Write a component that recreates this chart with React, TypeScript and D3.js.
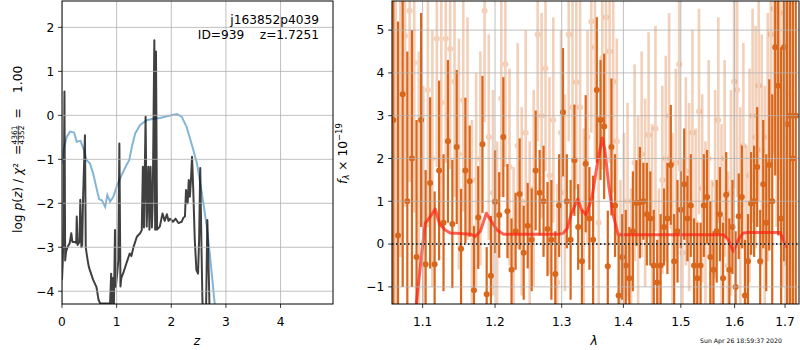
import * as d3 from "d3";

// left panel: log p(z) and prior
const pzZ = [0.0, 0.015, 0.03, 0.045, 0.058, 0.075, 0.1, 0.14, 0.17, 0.19, 0.23, 0.26, 0.27, 0.285, 0.32, 0.335, 0.355, 0.37, 0.385, 0.42, 0.435, 0.45, 0.47, 0.49, 0.51, 0.57, 0.63, 0.67, 0.7, 0.85, 0.88, 0.9, 0.91, 0.935, 0.95, 0.97, 0.985, 1.01, 1.03, 1.05, 1.07, 1.085, 1.12, 1.18, 1.24, 1.27, 1.31, 1.37, 1.43, 1.46, 1.48, 1.5, 1.53, 1.55, 1.58, 1.6, 1.62, 1.645, 1.66, 1.69, 1.705, 1.72, 1.74, 1.79, 1.84, 1.88, 1.92, 1.95, 1.98, 2.03, 2.08, 2.13, 2.19, 2.22, 2.25, 2.27, 2.3, 2.32, 2.34, 2.36, 2.38, 2.4, 2.43, 2.46, 2.49, 2.51, 2.53, 2.55, 2.57, 2.6, 2.63, 2.66, 2.69, 2.71, 2.75];
const pzLog = [-3.75, -3.3, -2.4, 0.54, -3.3, -3.1, -3.0, -2.91, -2.68, -2.88, -2.88, -2.9, -2.3, -2.95, -2.88, -1.92, -3.0, -2.95, -1.92, -0.45, -3.0, -3.14, -3.3, -3.44, -3.52, -3.74, -3.9, -4.2, -4.28, -4.28, -4.28, -3.6, -4.3, -3.7, -4.3, -2.61, -3.9, -3.6, -3.3, -0.64, -3.89, -3.7, -3.59, -3.36, -3.14, -3.2, -2.99, -2.76, -2.68, -2.61, -1.17, -2.55, -0.03, -2.53, -1.17, -2.6, -1.17, -2.55, -2.0, 1.71, -2.6, 1.45, -2.6, -2.53, -2.23, -2.4, -2.25, -2.4, -2.35, -2.42, -2.35, -2.45, -2.42, -2.33, -2.3, -1.7, -2.0, -1.47, -1.85, -1.47, -0.94, -1.6, -2.83, -3.52, -3.6, -2.8, -1.2, -2.8, -4.2, -5.0, -5.0, -2.38, -3.8, -5.0, -6.0];

const priorZ = [0.0, 0.025, 0.086, 0.147, 0.22, 0.27, 0.34, 0.39, 0.45, 0.51, 0.57, 0.64, 0.68, 0.73, 0.79, 0.83, 0.88, 0.94, 1.0, 1.09, 1.18, 1.23, 1.28, 1.34, 1.43, 1.55, 1.67, 1.79, 1.92, 2.1, 2.19, 2.28, 2.37, 2.47, 2.56, 2.65, 2.71, 2.77, 2.82];
const priorLog = [-1.1, -0.79, -0.49, -0.37, -0.39, -0.6, -0.58, -0.75, -1.02, -1.09, -1.32, -1.7, -1.91, -1.93, -2.08, -1.81, -1.96, -1.85, -1.62, -1.36, -1.13, -1.02, -0.71, -0.41, -0.22, -0.11, -0.08, -0.06, -0.02, 0.03, -0.03, -0.26, -0.64, -1.09, -1.77, -2.53, -3.21, -3.97, -4.6];

// right panel: spectrum, dark set
const darkWave = [1.062, 1.068, 1.074, 1.08, 1.086, 1.092, 1.098, 1.104, 1.11, 1.116, 1.122, 1.128, 1.134, 1.14, 1.146, 1.152, 1.158, 1.164, 1.17, 1.176, 1.182, 1.188, 1.194, 1.2, 1.206, 1.212, 1.218, 1.224, 1.23, 1.236, 1.242, 1.248, 1.254, 1.26, 1.266, 1.272, 1.278, 1.284, 1.29, 1.296, 1.302, 1.308, 1.314, 1.32, 1.326, 1.332, 1.338, 1.344, 1.35, 1.356, 1.362, 1.368, 1.374, 1.38, 1.386, 1.392, 1.398, 1.404, 1.41, 1.416, 1.422, 1.428, 1.434, 1.44, 1.446, 1.452, 1.458, 1.464, 1.47, 1.476, 1.482, 1.488, 1.494, 1.5, 1.506, 1.512, 1.518, 1.524, 1.53, 1.536, 1.542, 1.548, 1.554, 1.56, 1.566, 1.572, 1.578, 1.584, 1.59, 1.596, 1.602, 1.608, 1.614, 1.62, 1.626, 1.632, 1.638, 1.644, 1.65, 1.656, 1.662, 1.668, 1.674, 1.68, 1.686, 1.692, 1.698, 1.704, 1.71, 1.716, 1.722];
const darkFlux = [2.9, 0.2, 3.5, 1.0, 2.0, -0.3, 2.9, -0.47, 1.43, -0.47, 1.72, 0.5, 2.4, 0.47, 2.27, -0.11, 1.72, 1.47, -1.08, 0.62, 2.33, -1.17, -0.74, 0.99, 0.68, 2.5, 0.77, -0.6, 0.3, 1.17, -0.2, 0.43, 0.1, 1.72, 1.2, 1.0, 0.35, 0.1, -0.7, 0.9, 3.08, 1.0, 0.1, 1.96, 0.4, -0.4, 1.88, 0.6, 0.1, 3.6, 2.9, 2.75, -0.52, 2.27, 0.9, -1.2, -0.3, -0.5, -0.8, 0.3, 0.96, 0.97, 1.0, 0.7, 0.6, -0.5, -0.9, -0.5, 0.4, 0.6, 1.85, -0.4, 0.3, 0.8, 1.4, 0.6, 0.9, -0.5, -0.8, -0.5, 0.9, 1.1, -0.3, -0.6, 0.3, 0.7, -0.8, 1.15, -0.6, 0.4, -1.0, 0.65, 1.1, -1.2, -0.4, 0.95, 1.0, 1.8, -0.4, 1.4, 0.5, 1.85, 1.0, 4.6, 3.7, 0.6, 4.6, 2.8, 3.0, 2.0, 3.0];
const darkErr = [6, 5, 4.5, 3.5, 3.0, 3.2, 2.5, 2.2, 2.0, 1.7, 2.1, 1.6, 1.9, 1.5, 1.8, 1.4, 1.7, 1.3, 1.5, 1.2, 1.6, 1.1, 1.4, 1.2, 1.0, 1.4, 1.1, 1.2, 0.9, 1.3, 1.1, 1.0, 1.2, 1.4, 1.0, 1.3, 1.1, 1.4, 1.0, 1.2, 1.5, 1.1, 1.4, 1.3, 1.0, 1.2, 1.6, 1.2, 1.5, 1.7, 1.4, 1.7, 1.3, 1.6, 1.2, 1.4, 1.0, 1.3, 1.2, 1.4, 1.0, 1.3, 0.9, 1.2, 1.1, 1.3, 1.0, 1.2, 0.9, 1.3, 1.4, 1.1, 1.2, 0.9, 1.3, 1.0, 1.2, 1.1, 1.3, 1.0, 1.2, 1.1, 1.3, 0.9, 1.2, 1.1, 1.3, 1.0, 1.2, 1.1, 1.3, 1.0, 1.2, 1.3, 1.1, 1.2, 1.3, 1.4, 1.2, 1.5, 1.6, 2.0, 2.5, 3.0, 3.5, 4.0, 5, 5, 6, 6, 6];

// right panel: spectrum, light set
const lightWave = [1.065, 1.071, 1.077, 1.083, 1.089, 1.095, 1.101, 1.107, 1.113, 1.119, 1.125, 1.131, 1.137, 1.143, 1.149, 1.155, 1.161, 1.167, 1.173, 1.179, 1.185, 1.191, 1.197, 1.203, 1.209, 1.215, 1.221, 1.227, 1.233, 1.239, 1.245, 1.251, 1.257, 1.263, 1.269, 1.275, 1.281, 1.287, 1.293, 1.299, 1.305, 1.311, 1.317, 1.323, 1.329, 1.335, 1.341, 1.347, 1.353, 1.359, 1.365, 1.371, 1.377, 1.383, 1.389, 1.395, 1.401, 1.407, 1.413, 1.419, 1.425, 1.431, 1.437, 1.443, 1.449, 1.455, 1.461, 1.467, 1.473, 1.479, 1.485, 1.491, 1.497, 1.503, 1.509, 1.515, 1.521, 1.527, 1.533, 1.539, 1.545, 1.551, 1.557, 1.563, 1.569, 1.575, 1.581, 1.587, 1.593, 1.599, 1.605, 1.611, 1.617, 1.623, 1.629, 1.635, 1.641, 1.647, 1.653, 1.659, 1.665, 1.671, 1.677, 1.683, 1.689, 1.695, 1.701, 1.707, 1.713];
const lightFlux = [2.0, 4.2, 4.87, 5.45, 4.24, 1.1, 0.5, 3.6, 2.0, 4.8, 3.3, 4.8, 4.56, 3.8, 2.1, 3.36, 2.7, 0.4, 1.5, 2.0, 5.45, 2.5, 1.2, 0.1, 3.4, 4.2, 1.8, -0.5, 2.3, 1.0, 2.6, 0.2, 1.3, 4.9, 3.0, 4.1, 1.6, 2.9, -0.9, 2.6, 1.2, 4.9, 3.2, 3.78, 3.2, 0.3, 2.5, 5.2, 4.6, 0.5, 4.35, 5.3, 4.5, 3.8, 2.4, -0.8, 0.3, 1.0, -1.0, 1.9, 0.7, 2.1, 1.2, 2.55, 0.6, 2.7, -0.9, 1.5, 2.0, 3.0, 0.4, 1.9, 4.2, -0.2, 1.7, 1.1, 2.6, 0.5, 3.1, 1.3, 0.2, 2.0, -0.7, 1.4, 2.9, 0.6, 2.0, -0.5, 1.2, 3.8, 3.6, 0.9, 2.3, 0.0, 1.6, 3.0, 2.5, 3.7, 2.2, 0.9, 2.5, 4.9, 5.5, 4.0, 5.4, 3.0, 4.0, 2.5, 3.5];
const lightErr = [5, 4.5, 4, 4, 3.5, 3.4, 3.2, 3.2, 3.0, 3.0, 2.9, 2.9, 2.8, 2.7, 2.7, 2.6, 2.6, 2.5, 2.5, 2.5, 2.6, 2.4, 2.4, 2.3, 2.3, 2.4, 2.3, 2.3, 2.4, 2.2, 2.4, 2.2, 2.3, 2.5, 2.4, 2.4, 2.3, 2.4, 2.3, 2.4, 2.3, 2.5, 2.5, 2.5, 2.5, 2.4, 2.5, 2.6, 2.6, 2.5, 2.6, 2.6, 2.6, 2.6, 2.4, 2.3, 2.3, 2.3, 2.3, 2.3, 2.3, 2.4, 2.2, 2.4, 2.2, 2.4, 2.2, 2.2, 2.4, 2.4, 2.2, 2.2, 2.5, 2.2, 2.2, 2.2, 2.4, 2.2, 2.4, 2.2, 2.2, 2.3, 2.2, 2.2, 2.4, 2.2, 2.3, 2.2, 2.4, 2.5, 2.5, 2.3, 2.4, 2.3, 2.5, 2.5, 2.6, 2.7, 2.7, 2.8, 2.9, 3.1, 3.4, 3.6, 3.9, 4, 4.5, 5, 5.5];

// best-fit model
const modelWave = [1.086, 1.0917, 1.097, 1.1, 1.1036, 1.1102, 1.1168, 1.1226, 1.1303, 1.1371, 1.151, 1.1649, 1.1719, 1.179, 1.1875, 1.1932, 1.2028, 1.2125, 1.2424, 1.2941, 1.302, 1.3089, 1.3154, 1.3253, 1.3316, 1.3389, 1.3484, 1.3565, 1.3647, 1.3692, 1.3758, 1.3824, 1.3912, 1.5785, 1.588, 1.5975, 1.607, 1.6167, 1.6264, 1.69, 1.6967, 1.7023];
const modelFlux = [-2.2, -1.4, -0.52, -0.02, 0.49, 0.64, 0.82, 0.47, 0.33, 0.26, 0.25, 0.23, 0.18, 0.3, 0.72, 0.57, 0.33, 0.23, 0.23, 0.23, 0.25, 0.37, 0.72, 1.05, 0.8, 0.68, 1.11, 1.85, 2.48, 2.2, 1.35, 0.72, 0.22, 0.22, 0.1, -0.17, 0.1, 0.26, 0.27, 0.27, 0.1, -0.09];

const zTicks = [0, 1, 2, 3, 4];
const pTicks = [-4, -3, -2, -1, 0, 1, 2];
const lamTicks = [1.1, 1.2, 1.3, 1.4, 1.5, 1.6, 1.7];
const fTicks = [-1, 0, 1, 2, 3, 4, 5];

const FONT = "DejaVu Sans";
const ORANGE = "#d9661a";
const FS = 12.2;

const minus = (v: number) => (v < 0 ? "\u2212" + Math.abs(v) : String(v));

export default function App() {
  const L = { x0: 62, x1: 333, y0: 1, y1: 304 };
  const R = { x0: 392, x1: 799, y0: 1, y1: 304 };

  const zx = d3.scaleLinear().domain([0, 4.96]).range([L.x0, L.x1]);
  const zy = d3.scaleLinear().domain([-4.29, 2.6]).range([L.y1, L.y0]);
  const lx = d3.scaleLog().domain([1.0603, 1.7287]).range([R.x0, R.x1]);
  const fy = d3.scaleLinear().domain([-1.4, 5.68]).range([R.y1, R.y0]);

  const pzLine = d3.line<number>().x((_, i) => zx(pzZ[i])).y((d) => zy(d));
  const priorLine = d3.line<number>().x((_, i) => zx(priorZ[i])).y((d) => zy(d));
  const modelLine = d3.line<number>().x((_, i) => lx(modelWave[i])).y((d) => fy(d));

  const tick = 3.9;
  const grid = "#b0b0b0";

  return (
    <svg width={800} height={350} style={{ position: "absolute", left: 0, top: 0, background: "white" }}
      fontFamily={FONT}>
      <defs>
        <clipPath id="clipL"><rect x={L.x0} y={L.y0} width={L.x1 - L.x0} height={L.y1 - L.y0} /></clipPath>
        <clipPath id="clipR"><rect x={R.x0} y={R.y0} width={R.x1 - R.x0} height={R.y1 - R.y0} /></clipPath>
      </defs>

      {/* left panel */}
      <g clipPath="url(#clipL)">
        <path d={priorLine(priorLog) ?? ""} fill="none" stroke="#1f77b4" strokeOpacity={0.55} strokeWidth={2} />
        <path d={pzLine(pzLog) ?? ""} fill="none" stroke="#000" strokeOpacity={0.75} strokeWidth={2} strokeLinejoin="round" />
        {zTicks.map((t) => (
          <line key={"gx" + t} x1={zx(t)} x2={zx(t)} y1={L.y0} y2={L.y1} stroke={grid} strokeWidth={0.8} />
        ))}
        {pTicks.map((t) => (
          <line key={"gy" + t} x1={L.x0} x2={L.x1} y1={zy(t)} y2={zy(t)} stroke={grid} strokeWidth={0.8} />
        ))}
      </g>
      <rect x={L.x0} y={L.y0} width={L.x1 - L.x0} height={L.y1 - L.y0} fill="none" stroke="#000" strokeWidth={1} />
      {zTicks.map((t) => (
        <g key={"zx" + t}>
          <line x1={zx(t)} x2={zx(t)} y1={L.y1} y2={L.y1 + tick} stroke="#000" strokeWidth={0.8} />
          <text x={zx(t)} y={325.5} fontSize={FS} textAnchor="middle">{minus(t)}</text>
        </g>
      ))}
      {pTicks.map((t) => (
        <g key={"zy" + t}>
          <line x1={L.x0 - tick} x2={L.x0} y1={zy(t)} y2={zy(t)} stroke="#000" strokeWidth={0.8} />
          <text x={L.x0 - tick - 3.8} y={zy(t)} dy="0.36em" fontSize={FS} textAnchor="end">{minus(t)}</text>
        </g>
      ))}
      <text x={319} y={24} fontSize={FS} textAnchor="end">j163852p4039</text>
      <text x={319} y={39} fontSize={FS} textAnchor="end" style={{ whiteSpace: "pre" }}>{"ID=939    z=1.7251"}</text>
      <text x={197} y={345} fontSize={FS} textAnchor="middle" fontStyle="italic">z</text>
      <g transform="translate(22,233) rotate(-90)" fontSize={FS}>
        <text x={0} y={0}>
          log <tspan fontStyle="italic">p</tspan>(<tspan fontStyle="italic">z</tspan>) / <tspan fontStyle="italic">χ</tspan>²
        </text>
        <text x={83} y={0} textAnchor="middle">=</text>
        <text x={98} y={-4.6} fontSize={7.5} textAnchor="middle">4361</text>
        <line x1={88.5} x2={107.5} y1={-3.8} y2={-3.8} stroke="#000" strokeWidth={0.7} />
        <text x={98} y={2.2} fontSize={7.5} textAnchor="middle">4352</text>
        <text x={119.5} y={0} textAnchor="middle">=</text>
        <text x={140} y={0}>1.00</text>
      </g>

      {/* right panel */}
      <g clipPath="url(#clipR)">
        {lightWave.map((w, i) => (
          <g key={"lb" + i} opacity={0.3}>
            <line x1={lx(w)} x2={lx(w)} y1={fy(lightFlux[i] - lightErr[i])} y2={fy(lightFlux[i] + lightErr[i])}
              stroke={ORANGE} strokeWidth={2.6} />
            <circle cx={lx(w)} cy={fy(lightFlux[i])} r={3} fill={ORANGE} />
          </g>
        ))}
        {darkWave.map((w, i) => (
          <g key={"db" + i}>
            <line x1={lx(w)} x2={lx(w)} y1={fy(darkFlux[i] - darkErr[i])} y2={fy(darkFlux[i] + darkErr[i])}
              stroke={ORANGE} strokeWidth={2.2} />
            <circle cx={lx(w)} cy={fy(darkFlux[i])} r={3} fill={ORANGE} />
          </g>
        ))}
        <path d={modelLine(modelFlux) ?? ""} fill="none" stroke="#ff2010" strokeOpacity={0.7} strokeWidth={3}
          strokeLinejoin="round" />
        {lamTicks.map((t) => (
          <line key={"gl" + t} x1={lx(t)} x2={lx(t)} y1={R.y0} y2={R.y1} stroke={grid} strokeWidth={0.8} />
        ))}
        {fTicks.map((t) => (
          <line key={"gf" + t} x1={R.x0} x2={R.x1} y1={fy(t)} y2={fy(t)} stroke={grid} strokeWidth={0.8} />
        ))}
        <line x1={R.x0} x2={R.x1} y1={fy(0)} y2={fy(0)} stroke="#000" strokeWidth={1.5} strokeDasharray="1.5,2.5" />
      </g>
      <rect x={R.x0} y={R.y0} width={R.x1 - R.x0} height={R.y1 - R.y0} fill="none" stroke="#000" strokeWidth={1} />
      {lamTicks.map((t) => (
        <g key={"lx" + t}>
          <line x1={lx(t)} x2={lx(t)} y1={R.y1} y2={R.y1 + tick} stroke="#000" strokeWidth={0.8} />
          <text x={lx(t)} y={325.5} fontSize={FS} textAnchor="middle">{t.toFixed(1)}</text>
        </g>
      ))}
      {fTicks.map((t) => (
        <g key={"fy" + t}>
          <line x1={R.x0 - tick} x2={R.x0} y1={fy(t)} y2={fy(t)} stroke="#000" strokeWidth={0.8} />
          <text x={R.x0 - tick - 3.8} y={fy(t)} dy="0.36em" fontSize={FS} textAnchor="end">{minus(t)}</text>
        </g>
      ))}
      <text x={594} y={345} fontSize={FS} textAnchor="middle" fontStyle="italic">λ</text>
      <g transform="translate(347,153.5) rotate(-90)" fontSize={FS}>
        <text x={0} y={0} textAnchor="middle">
          <tspan fontStyle="italic">f</tspan>
          <tspan fontSize={8.5} fontStyle="italic" dy={2.2}>λ</tspan>
          <tspan dy={-2.2}>{" × 10"}</tspan>
          <tspan fontSize={8.5} dy={-5}>{"\u221219"}</tspan>
        </text>
      </g>
      <text x={741} y={343} fontSize={6.2} textAnchor="middle" fill="#000">Sun Apr 26 18:59:37 2020</text>
    </svg>
  );
}
